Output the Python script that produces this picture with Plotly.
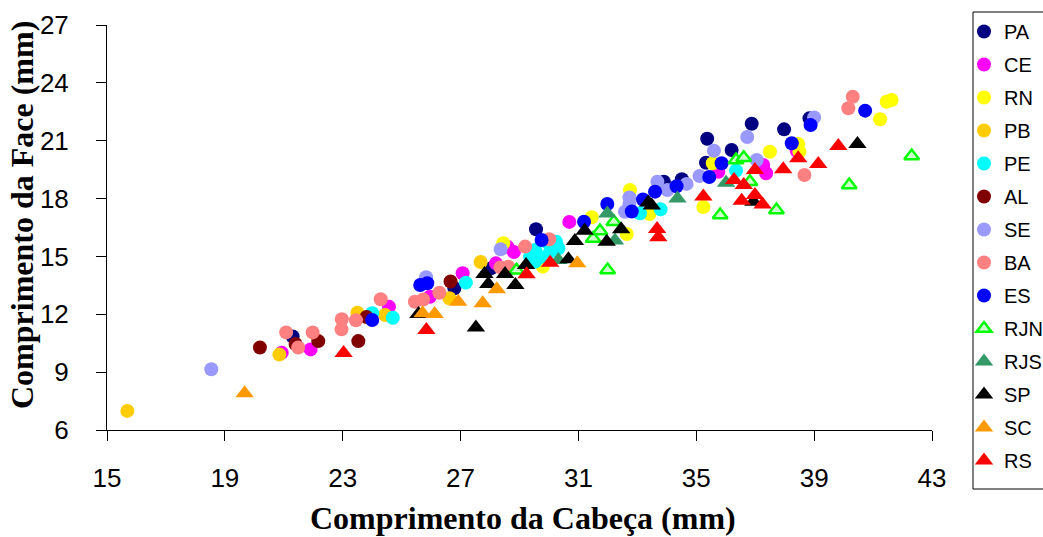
import plotly.graph_objects as go

# ---- data (Comprimento da Cabeça (mm), Comprimento da Face (mm)) ----
pa_x = [21.30, 26.79, 29.56, 28.03, 33.90, 34.51, 35.33, 35.37, 36.20, 36.88, 37.98, 38.84]
pa_y = [10.85, 13.35, 16.41, 14.38, 18.87, 19.00, 19.86, 21.10, 20.52, 21.88, 21.59, 22.16]

ce_x = [20.93, 21.91, 24.57, 25.96, 27.07, 28.20, 28.59, 28.81, 30.69, 35.75, 37.27, 37.37, 38.41]
ce_y = [10.01, 10.18, 12.39, 12.91, 14.13, 14.64, 15.50, 15.23, 16.79, 19.39, 19.74, 19.31, 20.48]

rn_x = [28.45, 29.79, 31.45, 32.64, 32.75, 33.41, 35.24, 35.56, 37.50, 38.46, 38.50, 41.24, 41.46, 41.63]
rn_y = [15.68, 14.47, 17.03, 16.16, 18.44, 17.20, 17.56, 19.83, 20.43, 20.83, 20.43, 22.11, 23.02, 23.11]

pb_x = [15.69, 20.85, 23.50, 24.44, 26.62, 27.68]
pb_y = [6.99, 9.91, 12.08, 11.96, 12.83, 14.71]

pe_x = [24.00, 24.70, 27.18, 29.36, 29.53, 29.53, 29.70, 29.92, 30.04, 30.24, 30.32, 33.09, 33.79, 36.35]
pe_y = [12.05, 11.82, 13.64, 14.99, 15.33, 14.73, 14.97, 15.76, 15.25, 15.76, 15.42, 17.24, 17.44, 19.45]

al_x = [20.19, 21.40, 22.17, 23.53, 23.81, 26.66]
al_y = [10.28, 10.46, 10.61, 10.61, 11.86, 13.70]

se_x = [18.54, 25.83, 28.36, 32.58, 32.73, 32.73, 33.68, 34.02, 34.67, 35.11, 35.60, 36.73, 37.05, 39.00]
se_y = [9.15, 13.92, 15.37, 17.32, 17.72, 18.06, 18.87, 18.44, 18.76, 19.17, 20.48, 21.19, 20.00, 22.21]

ba_x = [21.08, 21.49, 21.98, 22.96, 22.97, 23.45, 24.29, 25.45, 25.73, 26.28, 28.35, 28.62, 29.19, 30.01,
        38.67, 40.16, 40.31]
ba_y = [11.06, 10.28, 11.06, 11.22, 11.74, 11.69, 12.78, 12.65, 12.77, 13.12, 14.43, 14.47, 15.51, 15.89,
        19.22, 22.68, 23.28]

es_x = [24.00, 25.63, 25.87, 29.75, 31.19, 31.98, 32.81, 33.19, 33.60, 34.33, 35.44, 35.86, 38.24, 38.88, 40.73]
es_y = [11.70, 13.52, 13.61, 15.85, 16.80, 17.72, 17.33, 17.95, 18.36, 18.64, 19.12, 19.83, 20.87, 21.81, 22.56]

rjn_x = [28.90, 31.50, 31.73, 32.20, 31.99, 35.81, 36.35, 36.61, 36.82, 37.72, 40.19, 42.31]
rjn_y = [14.28, 15.93, 16.32, 16.80, 14.30, 17.15, 20.00, 20.12, 18.87, 17.41, 18.70, 20.21]

rjs_x = [30.32, 31.98, 32.24, 34.36, 36.01]
rjs_y = [14.81, 17.22, 15.83, 18.01, 18.82]

sp_x = [25.57, 27.52, 27.81, 27.94, 28.51, 28.86, 29.22, 30.66, 30.88, 31.21, 31.96, 32.45, 33.37, 33.49,
        36.94, 40.47]
sp_y = [12.01, 11.31, 14.09, 13.57, 14.09, 13.52, 14.56, 14.85, 15.80, 16.33, 15.76, 16.41, 17.80, 17.64,
        17.84, 20.83]

sc_x = [19.67, 25.71, 26.12, 26.92, 27.75, 28.23, 30.96]
sc_y = [7.90, 12.05, 12.01, 12.65, 12.57, 13.30, 14.64]

rs_x = [23.03, 25.84, 29.24, 30.04, 33.67, 33.71, 35.24, 36.28, 36.54, 36.61, 36.99, 36.99, 37.25, 37.95,
        38.46, 39.14, 39.82]
rs_y = [9.99, 11.19, 14.07, 14.67, 16.42, 15.99, 18.11, 18.96, 17.89, 18.70, 19.48, 18.19, 17.69, 19.52,
        20.09, 19.79, 20.73]

x_ticks = [15, 19, 23, 27, 31, 35, 39, 43]
y_ticks = [6, 9, 12, 15, 18, 21, 24, 27]

series = [
    ("PA", pa_x, pa_y, "#000080", "circle"),
    ("CE", ce_x, ce_y, "#FF00FF", "circle"),
    ("RN", rn_x, rn_y, "#FFFF00", "circle"),
    ("PB", pb_x, pb_y, "#FFCC00", "circle"),
    ("PE", pe_x, pe_y, "#00FFFF", "circle"),
    ("AL", al_x, al_y, "#800000", "circle"),
    ("SE", se_x, se_y, "#9999FF", "circle"),
    ("BA", ba_x, ba_y, "#FF8080", "circle"),
    ("ES", es_x, es_y, "#0000FF", "circle"),
    ("RJN", rjn_x, rjn_y, "#CCFFCC", "triangle-up"),
    ("RJS", rjs_x, rjs_y, "#339966", "triangle-up"),
    ("SP", sp_x, sp_y, "#000000", "triangle-up"),
    ("SC", sc_x, sc_y, "#FF9900", "triangle-up"),
    ("RS", rs_x, rs_y, "#FF0000", "triangle-up"),
]

fig = go.Figure()
for name, xs, ys, col, sym in series:
    if name == "RJN":
        marker = dict(color=col, symbol=sym, size=13, line=dict(color="#00FF00", width=2.5))
    elif sym == "circle":
        marker = dict(color=col, symbol=sym, size=14, line=dict(width=0))
    else:
        marker = dict(color=col, symbol=sym, size=16, line=dict(width=0))
    fig.add_trace(go.Scatter(x=xs, y=ys, mode="markers", name=name, marker=marker,
                             legendgroup=name, showlegend=True))

tick_font = dict(family="Liberation Sans, Arial", size=26, color="black")
title_font = dict(family="Liberation Serif, Times New Roman, serif", size=32, color="black")

PW, PH, L, T = 825, 405, 107, 25  # plot area size / offsets in px


def px_x(p):
    return (p - L) / PW


def px_y(p):
    return (T + PH - p) / PH


fig.update_layout(
    width=1043, height=537,
    paper_bgcolor="white", plot_bgcolor="white",
    margin=dict(l=107, r=111, t=25, b=107, autoexpand=False),
    xaxis=dict(range=[15, 43], tickvals=x_ticks, showline=True, linecolor="black", linewidth=1,
               ticks="outside", ticklen=10, tickcolor="black", showgrid=False, zeroline=False,
               tickfont=tick_font, ticklabelstandoff=15),
    yaxis=dict(range=[6, 27], tickvals=y_ticks, showline=True, linecolor="black", linewidth=1,
               ticks="outside", ticklen=10, tickcolor="black", showgrid=False, zeroline=False,
               tickfont=tick_font, ticklabelstandoff=22),
    legend=dict(x=px_x(964), y=px_y(12), xanchor="left", yanchor="top",
                borderwidth=0, bgcolor="rgba(0,0,0,0)",
                font=dict(family="Liberation Sans, Arial", size=20, color="black"),
                tracegroupgap=4),
    showlegend=True,
    shapes=[
        dict(type="rect", xref="paper", yref="paper", x0=px_x(973), x1=px_x(1060),
             y0=px_y(489), y1=px_y(12), line=dict(color="black", width=1), fillcolor="rgba(0,0,0,0)",
             layer="above"),
    ],
    annotations=[
        dict(text="<b>Comprimento da Cabeça (mm)</b>", xref="paper", yref="paper", x=0.504,
             y=px_y(518), xanchor="center", yanchor="middle", showarrow=False, font=title_font),
        dict(text="<b>Comprimento da Face (mm)</b>", xref="paper", yref="paper", x=px_x(22),
             y=px_y(215), xanchor="center", yanchor="middle", showarrow=False, font=title_font,
             textangle=-90),
    ],
)
try:
    fig.update_layout(legend_maxheight=600)
except Exception:
    pass

fig.write_html("out.html")
